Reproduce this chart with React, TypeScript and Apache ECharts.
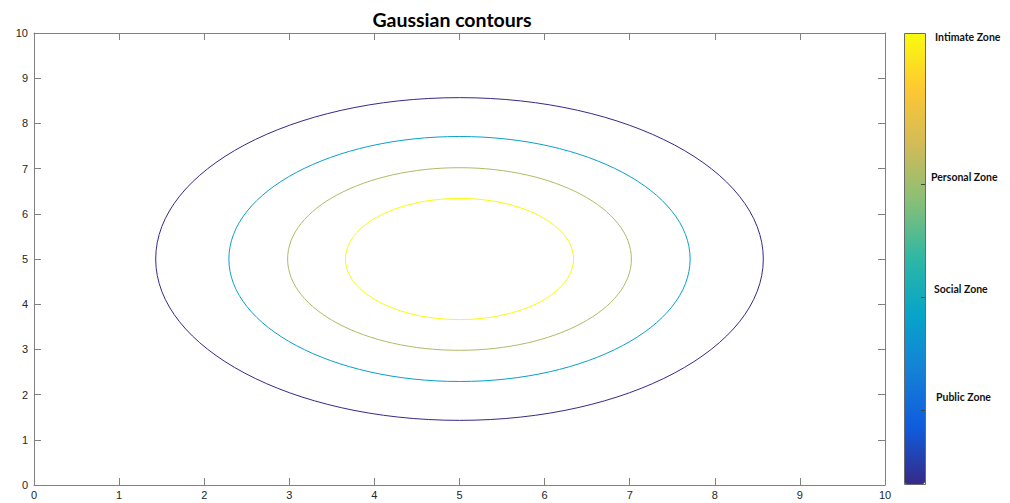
import React, { useEffect, useRef } from 'react';
import * as echarts from 'echarts';

// Contour levels (circles centred at (5,5) in data units)
const centerX = [5, 5, 5, 5];
const centerY = [5, 5, 5, 5];
const radii = [3.57, 2.71, 2.02, 1.34];
const levels = [0, 0.36, 0.69, 1];

const titleText = 'Gaussian contours';
const zoneLabels = ['Intimate Zone', 'Personal Zone', 'Social Zone', 'Public Zone'];
const parula = ['#352A87', '#0F5CDD', '#1481D6', '#06A4CA', '#2EB7A4', '#87BF77', '#D1BB59', '#FEC832', '#F9FB0E'];

const AXIS_COLOR = '#808080';
const LABEL_COLOR = '#262626';

export default function App() {
  const ref = useRef<HTMLDivElement>(null);

  useEffect(() => {
    if (!ref.current) return;
    const chart = echarts.init(ref.current, undefined, { renderer: 'svg' });

    const data = centerX.map((cx, i) => [cx, centerY[i], radii[i], levels[i]]);

    const zonePos = [
      { x: 935, y: 37 },
      { x: 931, y: 177 },
      { x: 934, y: 289 },
      { x: 936, y: 397 },
    ];
    const cbTicks = [184, 297, 410];

    const baseAxis = {
      type: 'value',
      min: 0,
      max: 10,
      interval: 1,
      splitLine: { show: false },
      axisLine: { show: true, onZero: false, lineStyle: { color: AXIS_COLOR, width: 1 } },
      axisTick: { show: true, inside: true, length: 7, lineStyle: { color: AXIS_COLOR } },
    };

    chart.setOption({
      animation: false,
      backgroundColor: '#ffffff',
      grid: { left: 34, right: 125, top: 33, bottom: 18, containLabel: false },
      xAxis: [
        {
          ...baseAxis,
          position: 'bottom',
          axisLabel: { color: LABEL_COLOR, fontSize: 11, fontFamily: 'Liberation Sans', margin: 4 },
        },
        { ...baseAxis, position: 'top', axisLabel: { show: false } },
      ],
      yAxis: [
        {
          ...baseAxis,
          position: 'left',
          axisLabel: { color: LABEL_COLOR, fontSize: 11, fontFamily: 'Liberation Sans', margin: 6 },
        },
        { ...baseAxis, position: 'right', axisLabel: { show: false } },
      ],
      visualMap: {
        type: 'continuous',
        min: 0,
        max: 1,
        dimension: 3,
        seriesIndex: 0,
        calculable: false,
        hoverLink: false,
        show: true,
        padding: 0,
        left: 904,
        top: 33,
        itemWidth: 21,
        itemHeight: 451,
        inRange: { color: parula },
      },
      series: [
        {
          type: 'custom',
          coordinateSystem: 'cartesian2d',
          xAxisIndex: 0,
          yAxisIndex: 0,
          encode: { x: 0, y: 1 },
          data,
          renderItem: (params: any, api: any) => {
            const c = api.coord([api.value(0), api.value(1)]);
            const s = api.size([api.value(2), api.value(2)]);
            return {
              type: 'ellipse',
              shape: { cx: c[0], cy: c[1], rx: s[0], ry: s[1] },
              style: { fill: 'none', stroke: api.visual('color'), lineWidth: 1 },
            };
          },
        },
      ],
      graphic: [
        {
          type: 'text',
          x: 452,
          y: 19,
          style: {
            text: titleText,
            font: 'bold 19.5px Lato',
            fill: '#000',
            textAlign: 'center',
            textVerticalAlign: 'middle',
          },
        },
        {
          type: 'rect',
          shape: { x: 904.5, y: 33.5, width: 21, height: 451 },
          style: { fill: 'none', stroke: '#6a6a6a', lineWidth: 1 },
          z: 100,
        },
        ...cbTicks.map((y) => ({
          type: 'line',
          shape: { x1: 921, y1: y + 0.5, x2: 925, y2: y + 0.5 },
          style: { stroke: '#444', lineWidth: 1 },
          z: 100,
        })),
        ...zoneLabels.map((t, i) => ({
          type: 'text',
          x: zonePos[i].x,
          y: zonePos[i].y,
          style: {
            text: t,
            font: 'bold 10.5px Lato',
            fill: '#111',
            textAlign: 'left',
            textVerticalAlign: 'middle',
          },
        })),
      ],
    });

    return () => chart.dispose();
  }, []);

  return (
    <div
      ref={ref}
      style={{ position: 'fixed', left: 0, top: 0, width: 1010, height: 503, background: '#fff' }}
    />
  );
}
